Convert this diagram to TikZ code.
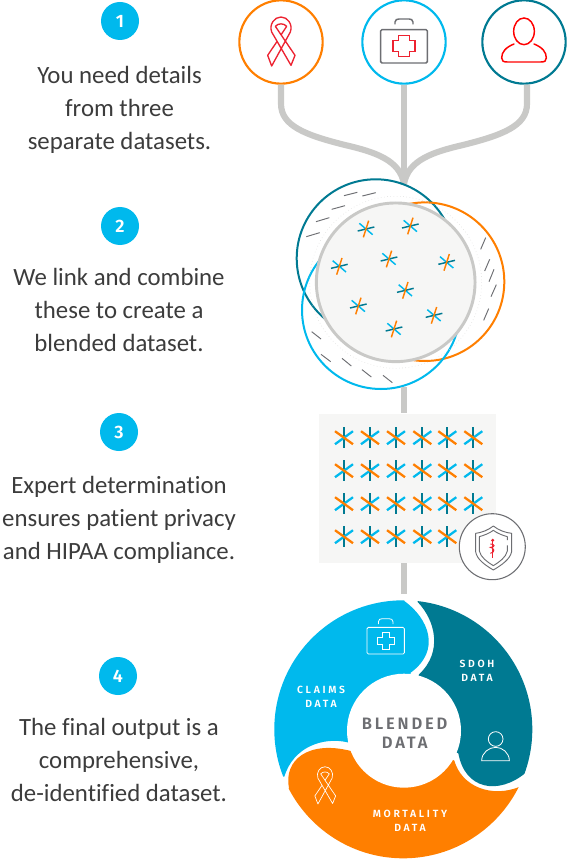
\documentclass[tikz,border=0pt]{standalone}
\usepackage{fontspec}
\setmainfont{Carlito}[Ligatures=NoCommon]
\newfontfamily\badgefont{Fira Sans SemiBold}
\newfontfamily\labelfont{Fira Sans SemiBold}[LetterSpace=26]
\newfontfamily\hubfont{Fira Sans SemiBold}[LetterSpace=17]
\definecolor{cblue}{HTML}{00B9ED}
\definecolor{corange}{HTML}{FF7F00}
\definecolor{cteal}{HTML}{007A92}
\definecolor{cred}{HTML}{ED2230}
\definecolor{cgrey}{HTML}{C9C9C7}
\definecolor{cpale}{HTML}{F6F6F5}
\definecolor{cicon}{HTML}{6D6E72}
\definecolor{ctext}{HTML}{3C3C3C}
\tikzset{
  badge/.style={circle,fill=cblue,draw=none,minimum size=28.5pt,inner sep=0pt,text=white,font=\badgefont\fontsize{13.5}{15}\selectfont},
  ring/.style={circle,fill=white,line width=1.6pt,minimum size=62.5pt,inner sep=0pt},
  bigline/.style={draw=cgrey,line width=4.6pt},
  steptext/.style={align=center,text=ctext,inner sep=0pt,font=\fontsize{18.6}{24.75}\selectfont},
  dashmark/.style={draw=cicon,line width=.7pt},
  donutlabel/.style={align=center,text=white,inner sep=0pt,font=\labelfont\fontsize{7.8}{10.3}\selectfont},
  zoomB/.style={shift={(285,170)},x=.25pt,y=-.25pt},
  zoomD/.style={shift={(265,590)},x=.25pt,y=-.25pt},
  zoomS/.style={shift={(310,400)},x=.25pt,y=-.25pt},
}
\begin{document}
\begin{tikzpicture}[x=.75pt,y=-.75pt]
\useasboundingbox (0,0) rectangle (567,866);
\fill[white] (0,0) rectangle (567,866);

% left column
\node[badge] (b1) at (120,21) {1};
\node[badge] (b2) at (120,226) {2};
\node[badge] (b3) at (119,432) {3};
\node[badge] (b4) at (118,676) {4};
\node[steptext] (t1) at (119.5,110) {You need details\\from three\\separate datasets.};
\node[steptext] (t2) at (119,310) {We link and combine\\these to create a\\blended dataset.};
\node[steptext] (t3) at (119,520) {Expert determination\\ensures patient privacy\\and HIPAA compliance.};
\node[steptext] (t4) at (119,760) {The final output is a\\comprehensive,\\de-identified dataset.};

% top rings
\node[ring,draw=corange] (c1) at (281,42) {};
\node[ring,draw=cblue] (c2) at (404,42) {};
\node[ring,draw=cteal] (c3) at (524,42) {};

% connectors to the merge point
\coordinate (merge) at (404,184);
\draw[bigline] (c1.south) -- ++(0,19) .. controls +(0,22) and (305,135) .. (345,145) .. controls (375,152) and (400,160) .. (merge);
\draw[bigline] (c3.south) ++(3,0) -- ++(0,19) .. controls +(0,22) and (503,135) .. (463,145) .. controls (433,152) and (408,160) .. (merge);
\draw[bigline] (c2.south) -- (merge);

% ribbon icon, top
\begin{scope}[shift={(281,41)},x=.25pt,y=-.25pt]
\draw[cred,line join=round,line width=1pt] (-28,-27) .. controls (-36,-50) and (-20,-72) .. (0,-72)
     .. controls (20,-72) and (36,-50) .. (28,-27) -- (-28,75) -- (-40,43) -- (-13,3)
     (-28,-27) -- (30,73) -- (42,43) -- (-17,-44) .. controls (-8,-54) and (8,-54) .. (17,-44) -- (1,-20);
\end{scope}
% kit icon, top
\begin{scope}[shift={(404,42)},x=.25pt,y=-.25pt]
\draw[cicon,line width=1.1pt,rounded corners=1pt] (-70,-37) rectangle (70,63);
\draw[cicon,line width=1.1pt] (-27,-53) -- (-27,-60) .. controls (-27,-67) and (-20,-69) .. (-15,-69) -- (15,-69) .. controls (20,-69) and (27,-67) .. (27,-60) -- (27,-53);
\draw[cred,line width=.9pt] (-16,-20) -- (16,-20) -- (16,-4) -- (33,-4) -- (33,28) -- (16,28) -- (16,44) -- (-16,44) -- (-16,28) -- (-33,28) -- (-33,-4) -- (-16,-4) -- cycle;
\end{scope}
% person icon, top
\begin{scope}[shift={(524,42)},x=.25pt,y=-.25pt]
\draw[red,line width=1.1pt] (0,-32) ellipse [x radius=31,y radius=40];
\draw[red,line width=1.1pt,line cap=round] (-30,6) .. controls (-55,16) and (-67,30) .. (-67,48) .. controls (-67,57) and (-62,60) .. (-50,60) -- (50,60) .. controls (62,60) and (67,57) .. (67,48) .. controls (67,30) and (55,16) .. (30,6);
\end{scope}

% overlapping circles
\draw[cteal,line width=1.5pt] (375.7,258.3) circle (79);
\draw[corange,line width=1.5pt] (425,281.7) circle (79.3);
\draw[cblue,line width=1.5pt] (381,310) circle (79);
\draw[cgrey!70,line width=.4pt,dotted] (395.7,282.3) circle (86);
\begin{scope}[zoomB]
\foreach \a/\b/\c/\d in {177/77/217/67,232/78/272/68,140/118/180/107,93/155/133/143,64/200/104/188,
  587/238/602/203,599/303/614/268,612/335/627/298,618/380/634/344,596/451/611/416,
  80/485/108/507,108/553/137/575,171/565/199/588,231/599/259/621,294/616/322/638}
  \draw[dashmark] (\a,\b) -- (\c,\d);
\end{scope}
\node[circle,draw=cgrey,fill=cpale,line width=2.2pt,minimum size=119pt,inner sep=0pt] (blend) at (395.7,282.3) {};
\begin{scope}[zoomB]
\foreach \x/\y in {243/177,376/168,163/289,312/267,485/277,361/361,220/408,447/436,327/477}{
  \draw[cblue,line width=1.1pt] (\x-20,\y-17) -- (\x+20,\y+17);
  \draw[cteal,line width=1.1pt] (\x-25,\y+6) -- (\x+25,\y-6);
  \draw[corange,line width=1.1pt] (\x-8,\y+25) -- (\x+8,\y-25);
}
\end{scope}

% record grid
\node[rectangle,fill=cpale,minimum width=132.75pt,minimum height=112pt,inner sep=0pt] (grid) at (407.5,488.3) {};
\coordinate (stemtop) at (404,387);
\coordinate (stemend) at (404,594);
\draw[bigline] (stemtop) -- (stemtop |- grid.north);
\draw[bigline] (stemend |- grid.south) -- (stemend);
\foreach \x in {344,370,396,422.3,447.3,473.3}
 \foreach \y in {437.7,470.7,503.7,536.7}{
  \draw[cteal,line width=1.7pt] (\x,\y-10.5) -- (\x,\y+10.5);
  \draw[cblue,line width=1.7pt] (\x-9,\y+6.5) -- (\x+9,\y-6.5);
  \draw[corange,line width=1.7pt] (\x-9,\y-6.5) -- (\x+9,\y+6.5);
 }

% shield
\node[circle,draw=cicon,fill=white,line width=.8pt,minimum size=49.5pt,inner sep=0pt] (shield) at (492.3,546.7) {};
\begin{scope}[zoomS]
\draw[cicon,line width=.7pt,line join=round] (550,378) .. controls (565,390) and (585,398) .. (605,400) -- (605,455) .. controls (600,478) and (575,495) .. (550,510) .. controls (525,495) and (500,478) .. (497,455) -- (497,400) .. controls (515,398) and (535,390) .. (550,378);
\draw[cicon,line width=.7pt,line join=round] (592,420) -- (592,410) .. controls (578,406) and (562,400) .. (550,391) .. controls (538,400) and (522,406) .. (508,410) -- (508,453) .. controls (512,472) and (532,486) .. (550,497) .. controls (568,486) and (588,472) .. (592,453) -- (592,436);
\draw[cred,line width=.9pt] (548,420) -- (548,475);
\fill[cred] (548,421) circle (5);
\draw[cred,line width=.7pt] (541,432) .. controls (556,432) and (556,442) .. (541,442) .. controls (552,444) and (558,456) .. (541,460);
\end{scope}

% donut
\begin{scope}
\clip (403.3,729.3) circle (129);
\begin{scope}[zoomD]
\fill[cblue] (418,33) .. controls (490,85) and (530,180) .. (437,248) -- (415,420) -- (248,457)
   .. controls (175,440) and (85,470) .. (58,560) -- (-200,560) -- (-200,-200) -- (418,-200) -- cycle;
\fill[cteal] (458,36) .. controls (510,90) and (535,185) .. (462,253) -- (415,420) -- (580,490)
   .. controls (600,600) and (700,615) .. (780,550) -- (1100,550) -- (1100,-200) -- (458,-200) -- cycle;
\fill[corange] (72,595) .. controls (55,510) and (130,450) .. (258,483) -- (415,420) -- (568,512)
   .. controls (590,590) and (680,625) .. (765,590) -- (1100,590) -- (1100,1100) -- (-200,1100) -- (-200,595) -- cycle;
\end{scope}
\end{scope}
\node[circle,fill=white,minimum size=85.5pt,inner sep=0pt] (hub) at (404,730.7) {};
\node[align=center,text=cicon,inner sep=0pt,font=\hubfont\fontsize{12.4}{14.3}\selectfont] (hubtext) at (404.7,733.5) {BLENDED\\DATA};
\node[donutlabel] (claims) at (321,697) {CLAIMS\\DATA};
\node[donutlabel] (sdoh) at (477,671) {SDOH\\DATA};
\node[donutlabel] (mort) at (410,821) {MORTALITY\\DATA};

% donut icons
\begin{scope}[shift={(385.7,640.7)},x=.2pt,y=-.2pt]
\draw[white,line width=.6pt,rounded corners=1pt] (-70,-50) rectangle (70,50);
\draw[white,line width=.6pt] (-27,-62) -- (-27,-72) .. controls (-27,-80) and (-20,-82) .. (-15,-82) -- (15,-82) .. controls (20,-82) and (27,-80) .. (27,-72) -- (27,-62);
\draw[white,line width=.6pt] (-14,-33) -- (14,-33) -- (14,-14) -- (33,-14) -- (33,14) -- (14,14) -- (14,33) -- (-14,33) -- (-14,14) -- (-33,14) -- (-33,-14) -- (-14,-14) -- cycle;
\end{scope}
\begin{scope}[shift={(325,785)},x=.19pt,y=-.19pt]
\draw[white,line width=.5pt,line join=round] (-28,-27) .. controls (-36,-50) and (-20,-72) .. (0,-72)
     .. controls (20,-72) and (36,-50) .. (28,-27) -- (-28,75) -- (-40,43) -- (-13,3)
     (-28,-27) -- (30,73) -- (42,43) -- (-17,-44) .. controls (-8,-54) and (8,-54) .. (17,-44) -- (1,-20);
\end{scope}
\begin{scope}[zoomD]
\draw[white,line width=.6pt] (692,447) circle (22);
\draw[white,line width=.6pt] (650,512) .. controls (650,488) and (672,472) .. (692,472) .. controls (712,472) and (733,488) .. (733,512) -- cycle;
\end{scope}
\end{tikzpicture}
\end{document}
